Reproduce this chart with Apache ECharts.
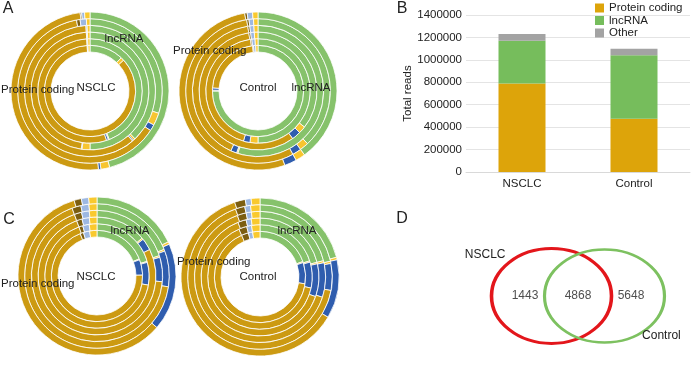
<!DOCTYPE html>
<html>
<head>
<meta charset="utf-8">
<script src="https://cdn.jsdelivr.net/npm/echarts@6/dist/echarts.min.js"></script>
<style>
  html, body { margin: 0; padding: 0; background: #fff; }
  #chart { width: 694px; height: 366px; }
</style>
</head>
<body>
<div id="chart"></div>
<script>
// biotypes in the order they run clockwise from 12 o'clock in every ring
const ringTypes = ['lincRNA', 'snRNA', 'misc_RNA', 'protein_coding', 'processed_pseudogene', 'snoRNA', 'antisense'];
const ringColors = ['#86C26B', '#F7C530', '#2F5DAE', '#CC9A12', '#7C5E10', '#9DB8E2', '#F9C92E'];

// % of reads per sample, inner ring first (6 samples per donut)
const aNsclc = [
  [12, 1.2, 0, 85.8, 0, 0.3, 0.7],
  [44, 0.3, 0.6, 54.1, 0, 0.3, 0.7],
  [50, 2.2, 0.2, 46.6, 0, 0.3, 0.7],
  [38, 0.5, 0.3, 60.2, 0, 0.3, 0.7],
  [30, 2.8, 1.4, 62.8, 0.8, 1.4, 0.8],
  [46, 1.8, 0.5, 49.7, 0.3, 0.6, 1.1]
];
const aControl = [
  [75, 0.3, 0.8, 22, 0.3, 0.8, 0.8],
  [50, 2.5, 2, 43.2, 0.4, 1.0, 0.9],
  [35.5, 2, 2.5, 57.5, 0.5, 1.0, 1.0],
  [55, 0.3, 1.5, 40.7, 0.5, 1.0, 1.0],
  [38, 2, 2, 55.5, 0.5, 1.0, 1.0],
  [40, 2, 2.5, 52.8, 0.5, 1.1, 1.1]
];
const cNsclc = [
  [18.9, 0.3, 5.5, 69.3, 1.2, 2.2, 2.6],
  [20.5, 0.3, 7, 66.6, 1.2, 2.0, 2.4],
  [13.9, 0.4, 3.3, 76.8, 1.5, 2.0, 2.1],
  [20, 0.4, 6, 68, 1.8, 1.9, 1.9],
  [19, 0.4, 8, 67, 2.0, 1.8, 1.8],
  [18, 0.5, 18, 59.3, 1.5, 1.5, 1.7]
];
const cControl = [
  [19.5, 0.4, 7.5, 66, 2.5, 1.5, 2.6],
  [20, 0.4, 8, 65, 2.5, 1.5, 2.6],
  [21, 0.4, 9, 63.5, 2.3, 1.4, 2.4],
  [21, 0.5, 8.5, 64.4, 2.2, 1.3, 2.1],
  [21.5, 0.5, 6, 66.5, 2.1, 1.3, 2.1],
  [21, 0.5, 12, 61.3, 2.2, 1.2, 1.8]
];

// panel B
const barCategories = ['NSCLC', 'Control'];
const proteinReads = [790000, 475000];
const lncReads = [380000, 565000];
const otherReads = [60000, 60000];

// panel D
const vennSets = ['NSCLC', 'Control'];
const vennCounts = [1443, 4868, 5648]; // NSCLC only, both, Control only

const FONT = 'Liberation Sans, Arial, Helvetica, sans-serif';
const ellipse = 'path://M0,50 A50,50 0 1,1 100,50 A50,50 0 1,1 0,50 Z';

function donut(rings, center) {
  const r0 = 39, step = 6.67;
  return rings.map((vals, i) => ({
    type: 'pie',
    center: center,
    radius: [r0 + i * step, r0 + (i + 1) * step],
    startAngle: 90,
    clockwise: true,
    silent: true,
    animation: false,
    label: { show: false },
    labelLine: { show: false },
    itemStyle: { borderColor: '#fff', borderWidth: 0.8 },
    data: vals
      .map((v, k) => ({ name: ringTypes[k], value: v, itemStyle: { color: ringColors[k] } }))
      .filter(d => d.value > 0)
  }));
}

function txt(s, x, y, size, align) {
  return {
    type: 'text', x: x, y: y, silent: true, z: 100,
    style: { text: s, font: size + 'px ' + FONT, fill: '#222', align: align || 'center', verticalAlign: 'middle' }
  };
}

let mychart = echarts.init(document.getElementById('chart'));
let option = {
  animation: false,
  legend: {
    data: ['Protein coding', 'lncRNA', 'Other'],
    orient: 'vertical',
    left: 595,
    top: 2,
    padding: 0,
    itemWidth: 9,
    itemHeight: 9,
    itemGap: 0.5,
    icon: 'rect',
    selectedMode: false,
    textStyle: { fontSize: 11.5, lineHeight: 11, color: '#222', fontFamily: FONT }
  },
  grid: [
    { left: 466, right: 4, top: 15, bottom: 194 },
    { left: 472, width: 212, top: 246, height: 100 }
  ],
  xAxis: [
    {
      gridIndex: 0,
      type: 'category',
      data: barCategories,
      axisTick: { show: false },
      axisLine: { lineStyle: { color: '#d9d9d9' } },
      axisLabel: { color: '#222', fontSize: 11.5, fontFamily: FONT, margin: 6 }
    },
    { gridIndex: 1, type: 'value', min: -1, max: 3, show: false }
  ],
  yAxis: [
    {
      gridIndex: 0,
      type: 'value',
      min: 0,
      max: 1400000,
      interval: 200000,
      name: 'Total reads',
      nameLocation: 'middle',
      nameRotate: 90,
      nameGap: 48,
      nameTextStyle: { color: '#222', fontSize: 11.5, fontFamily: FONT },
      axisLine: { show: false },
      axisTick: { show: false },
      axisLabel: { color: '#222', fontSize: 11.5, fontFamily: FONT, margin: 4, formatter: v => String(v) },
      splitLine: { lineStyle: { color: '#e4e4e4' } }
    },
    { gridIndex: 1, type: 'value', min: -1, max: 1, show: false }
  ],
  series: [
    ...donut(aNsclc, [90, 91]),
    ...donut(aControl, [258, 91]),
    ...donut(cNsclc, [97, 276]),
    ...donut(cControl, [260, 277]),
    {
      name: 'Protein coding', type: 'bar', stack: 'reads', barWidth: 47,
      itemStyle: { color: '#DDA40A' }, data: proteinReads
    },
    {
      name: 'lncRNA', type: 'bar', stack: 'reads',
      itemStyle: { color: '#76BD5C' }, data: lncReads
    },
    {
      name: 'Other', type: 'bar', stack: 'reads',
      itemStyle: { color: '#A3A3A3' }, data: otherReads
    },
    {
      type: 'scatter', xAxisIndex: 1, yAxisIndex: 1, silent: true,
      symbol: ellipse, symbolSize: [120, 95],
      itemStyle: { color: 'rgba(0,0,0,0)', borderColor: '#E3161B', borderWidth: 3.2, opacity: 1 },
      label: {
        show: true, formatter: vennSets[0], position: [-4.5, 7.5], align: 'center', verticalAlign: 'middle',
        color: '#222', fontSize: 12, fontFamily: FONT
      },
      data: [[0.5, 0]]
    },
    {
      type: 'scatter', xAxisIndex: 1, yAxisIndex: 1, silent: true,
      symbol: ellipse, symbolSize: [120, 93],
      itemStyle: { color: 'rgba(0,0,0,0)', borderColor: '#7DC160', borderWidth: 2.8, opacity: 1 },
      label: {
        show: true, formatter: vennSets[1], position: [118.5, 87.5], align: 'center', verticalAlign: 'middle',
        color: '#222', fontSize: 12, fontFamily: FONT
      },
      data: [[1.5, 0]]
    },
    {
      type: 'scatter', xAxisIndex: 1, yAxisIndex: 1, silent: true,
      symbolSize: 0,
      label: {
        show: true, position: 'inside', formatter: p => String(vennCounts[p.dataIndex]),
        color: '#222', fontSize: 12, fontFamily: FONT
      },
      data: vennCounts.map((c, i) => [i, 0])
    }
  ],
  graphic: [
    txt('A', 8, 9, 16),
    txt('B', 402, 9, 16),
    txt('C', 9, 220, 16),
    txt('D', 402, 219, 16),
    // panel A donut labels
    txt('lncRNA', 124, 39, 11.5),
    txt('Protein coding', 1, 90, 11.5, 'left'),
    txt('NSCLC', 96, 88, 11.5),
    txt('Protein coding', 173, 51, 11.5, 'left'),
    txt('Control', 258, 88, 11.5),
    txt('lncRNA', 311, 88, 11.5),
    // panel C donut labels
    txt('lncRNA', 130, 231, 11.5),
    txt('Protein coding', 1, 284, 11.5, 'left'),
    txt('NSCLC', 96, 277, 11.5),
    txt('lncRNA', 297, 231, 11.5),
    txt('Protein coding', 177, 262, 11.5, 'left'),
    txt('Control', 258, 277, 11.5)
  ]
};
mychart.setOption(option);
</script>
</body>
</html>
